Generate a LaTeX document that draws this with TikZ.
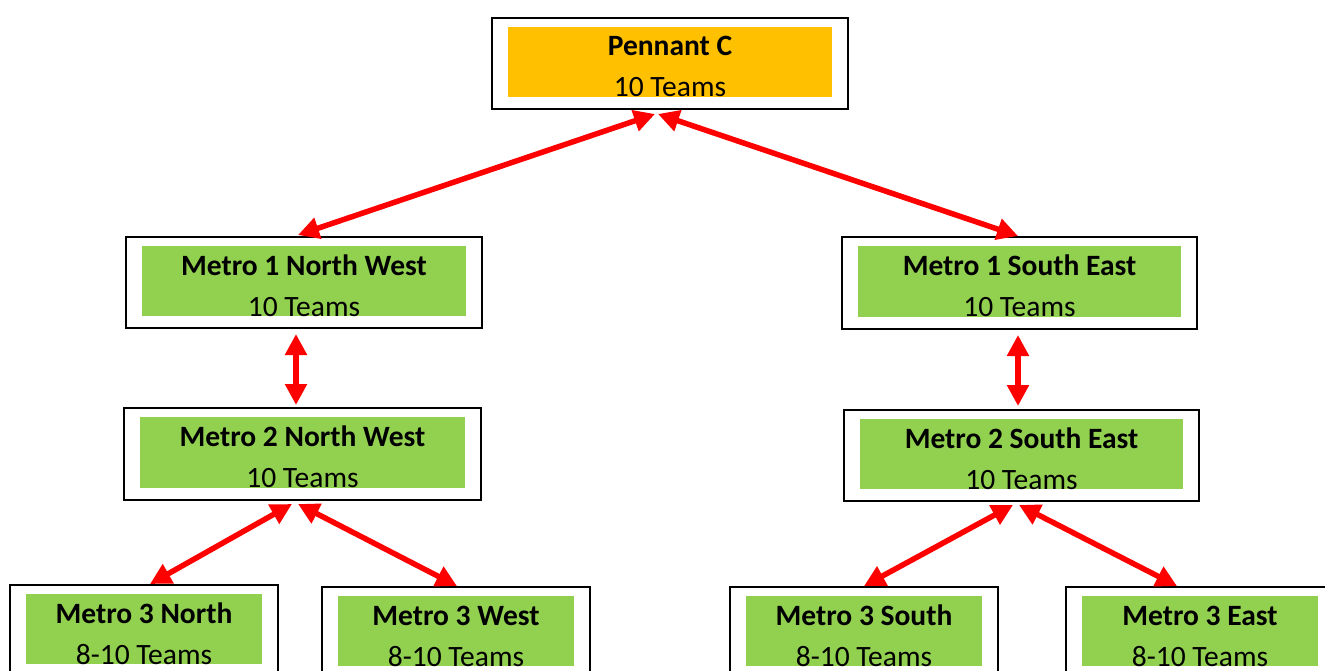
\documentclass[tikz,border=0pt]{standalone}
\usepackage{fontspec}
\setmainfont{Carlito}
\usetikzlibrary{arrows.meta,calc}
\definecolor{penorange}{HTML}{FFC000}
\definecolor{metgreen}{HTML}{92D050}
\tikzset{
  outerbox/.style={draw=black, line width=2pt, fill=white, rectangle, inner sep=0pt, anchor=north},
  innerbox/.style={rectangle, inner sep=0pt, anchor=north},
  lbl/.style={anchor=base, inner sep=0pt, font=\fontsize{29.5}{35}\selectfont},
  link/.style={draw=red, line width=5.5pt, {Triangle[length=21pt,width=21pt]}-{Triangle[length=21pt,width=21pt]}}
}
% name, cx, top, width, height, colour, title, count
\newcommand\teambox[8]{%
  \node[outerbox, minimum width=#4pt, minimum height=#5pt] (#1) at (#2,#3) {};
  \node[innerbox, fill=#6, minimum width=#4pt-32pt, minimum height=#5pt-21pt] (#1-in) at ($(#1.north)+(0,10)$) {};
  \node[lbl] (#1-t) at ($(#1-in.north)+(0,29)$) {\textbf{#7}};
  \node[lbl] (#1-c) at ($(#1-in.north)+(0,70)$) {#8};
}
\begin{document}
\begin{tikzpicture}[x=1pt,y=-1pt]
\useasboundingbox (0,0) rectangle (1325,671);
\clip (0,0) rectangle (1325,671);
\teambox{pen}{670}{17}{356}{91}{penorange}{Pennant C}{10 Teams}
\teambox{m1nw}{304}{236}{356}{91}{metgreen}{Metro 1 North West}{10 Teams}
\teambox{m1se}{1019.5}{236}{355}{92}{metgreen}{Metro 1 South East}{10 Teams}
\teambox{m2nw}{302.5}{407}{357}{92}{metgreen}{Metro 2 North West}{10 Teams}
\teambox{m2se}{1021.5}{409}{355}{91}{metgreen}{Metro 2 South East}{10 Teams}
\teambox{m3n}{144}{584}{268}{91}{metgreen}{Metro 3 North}{8-10 Teams}
\teambox{m3w}{456}{586}{268}{91}{metgreen}{Metro 3 West}{8-10 Teams}
\teambox{m3s}{864}{586}{268}{91}{metgreen}{Metro 3 South}{8-10 Teams}
\teambox{m3e}{1200}{586}{268}{91}{metgreen}{Metro 3 East}{8-10 Teams}
\draw[link] ($(pen.south)+(-15,4)$) -- ($(m1nw.north)+(-6,-1)$);
\draw[link] ($(pen.south)+(-12,4)$) -- ($(m1se.north)+(-1.5,0)$);
\draw[link] ($(m1nw.south)+(-8,5)$) -- ($(m2nw.north)+(-6.5,-2)$);
\draw[link] ($(m1se.south)+(-1.5,5)$) -- ($(m2se.north)+(-3.5,-3)$);
\draw[link] ($(m2nw.south)+(-10.5,3)$) -- ($(m3n.north)+(6,0)$);
\draw[link] ($(m2nw.south)+(-4.5,3)$) -- ($(m3w.north)+(1,0)$);
\draw[link] ($(m2se.south)+(-8.5,3)$) -- ($(m3s.north)+(0,0)$);
\draw[link] ($(m2se.south)+(-2.5,3)$) -- ($(m3e.north)+(-23,0)$);
\end{tikzpicture}
\end{document}
